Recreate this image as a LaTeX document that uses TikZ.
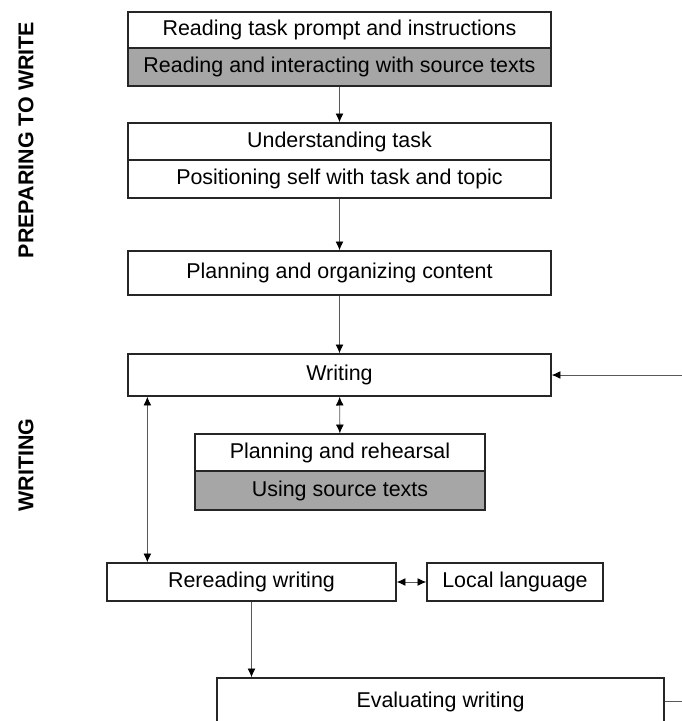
\documentclass[tikz,border=0pt]{standalone}
\usepackage{fontspec}
\setmainfont{Liberation Sans}
\usetikzlibrary{arrows.meta}
\definecolor{srcgray}{RGB}{166,166,166}
\begin{document}
\begin{tikzpicture}[x=0.02cm,y=-0.02cm,
  box/.style={draw=black!85,line width=0.8pt,inner sep=0pt,fill=white,
    font=\fontsize{12.2}{14}\selectfont},
  src/.style={box,fill=srcgray},
  link/.style={draw=black!65,line width=0.5pt,
    -{Latex[length=5pt,width=4.5pt,color=black]}},
  both/.style={link,{Latex[length=5pt,width=4.5pt,color=black]}-{Latex[length=5pt,width=4.5pt,color=black]}},
  plain/.style={draw=black!65,line width=0.5pt},
  phase/.style={rotate=90,font=\fontsize{12.2}{14}\selectfont\bfseries}]
\clip (0,0) rectangle (682,721);

% phase labels
\node[phase] (prep) at (26,140) {PREPARING TO WRITE};
\node[phase] (write) at (26,465) {WRITING};

% preparing to write
\node[box,minimum width=8.46cm,minimum height=0.72cm] (prompt) at (339.5,30) {Reading task prompt and instructions};
\node[src,minimum width=8.46cm,minimum height=0.76cm] (sources) at (339.5,67) {Reading and interacting with source texts};
\node[box,minimum width=8.46cm,minimum height=0.74cm] (task) at (339.5,141.5) {Understanding task};
\node[box,minimum width=8.46cm,minimum height=0.76cm] (position) at (339.5,179) {Positioning self with task and topic};
\node[box,minimum width=8.46cm,minimum height=0.88cm] (organize) at (339.5,273) {Planning and organizing content};

% writing
\node[box,minimum width=8.46cm,minimum height=0.84cm] (writing) at (339.5,375) {Writing};
\node[box,minimum width=5.8cm,minimum height=0.74cm] (rehearse) at (340,452.5) {Planning and rehearsal};
\node[src,minimum width=5.8cm,minimum height=0.78cm] (using) at (340,490.5) {Using source texts};
\node[box,minimum width=5.78cm,minimum height=0.76cm] (reread) at (251.5,582) {Rereading writing};
\node[box,minimum width=3.52cm,minimum height=0.76cm] (local) at (515,582) {Local language};
\node[box,minimum width=8.94cm,minimum height=0.94cm] (evaluate) at (440.5,701.5) {Evaluating writing};

\coordinate (feed) at (682,375);
\coordinate (out) at (682,701.5);

\draw[link] (sources) -- (task);
\draw[link] (position) -- (organize);
\draw[link] (organize) -- (writing);
\draw[both] (writing) -- (rehearse);
\draw[link] (feed) -- (writing.east);
\draw[both] ([xshift=0.4cm]writing.south west) -- ([xshift=0.4cm]writing.south west |- reread.north);
\draw[both] (reread) -- (local);
\draw[link] (reread.south) -- (reread.south |- evaluate.north);
\draw[plain] (evaluate.east) -- (out);
\end{tikzpicture}
\end{document}
